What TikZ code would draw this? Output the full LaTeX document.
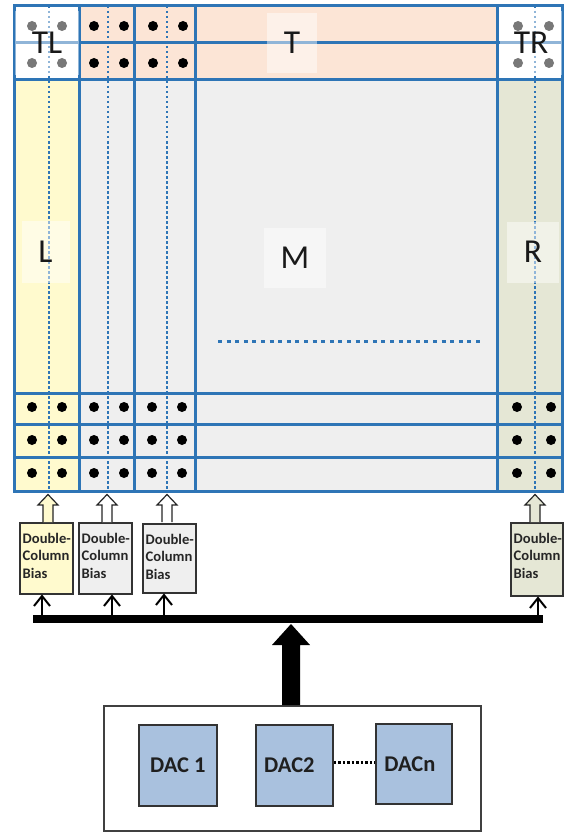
\documentclass[tikz,border=0pt]{standalone}
\usepackage{fontspec}
\setmainfont{Carlito}
\usetikzlibrary{arrows.meta,calc}
\definecolor{gridblue}{RGB}{46,117,182}
\definecolor{peach}{RGB}{252,229,214}
\definecolor{lyellow}{RGB}{255,250,206}
\definecolor{lgrey}{RGB}{239,239,239}
\definecolor{lolive}{RGB}{229,231,213}
\definecolor{dacblue}{RGB}{169,193,222}
\tikzset{
  gridline/.style={draw=gridblue, line width=3pt, line cap=rect},
  vdots/.style={draw=gridblue, line width=2pt, dash pattern=on 2.5pt off 2.5pt},
  hdots/.style={draw=gridblue, line width=3pt, dash pattern=on 4pt off 4.6pt},
  lblnode/.style={fill=white, fill opacity=0.47, text opacity=1, inner sep=0pt, text=black!90, font=\fontsize{33.5}{36}\selectfont},
  biasbox/.style={draw=black!80, line width=1.5pt, minimum width=53pt, minimum height=71pt, inner sep=0pt, anchor=north west},
  biastext/.style={font=\bfseries\fontsize{14.6}{17.5}\selectfont, align=left, anchor=north west, inner sep=0pt, text=black!85},
  hollow/.style={draw=black!85, line width=1.2pt, line join=miter},
  busline/.style={line width=2pt},
  barb/.style={line width=2pt, line join=miter},
  dacbox/.style={draw=black!80, line width=1.8pt, fill=dacblue, inner sep=0pt, anchor=north west},
  dactext/.style={font=\bfseries\fontsize{22.5}{27}\selectfont, text=black!88, inner sep=0pt}
}
\begin{document}
\begin{tikzpicture}[x=1pt,y=-1pt]
\useasboundingbox (0,0) rectangle (566,832);
% cell fills
\fill[white] (14,6) rectangle (79,80);
\fill[peach] (79,6) rectangle (497,80);
\fill[white] (497,6) rectangle (562,80);
\fill[lyellow] (14,80) rectangle (79,491);
\fill[lgrey] (79,80) rectangle (497,491);
\fill[lolive] (497,80) rectangle (562,491);
% dotted lines
\foreach \x in {49,108,167,535} \draw[vdots] (\x,6) -- (\x,491);
\draw[hdots] (218,341) -- (480,341);
% grid
\foreach \y in {6,43,80,393,424,457,491} \draw[gridline] (14,\y) -- (562,\y);
\foreach \x in {14,79,134,195,497,562} \draw[gridline] (\x,6) -- (\x,491);
% dots
\foreach \x in {32,62,94,124,153,183,518,549} \foreach \y in {26,63} \fill (\x,\y) circle (5pt);
\foreach \x in {32,62,94,124,152,182,517,551} \foreach \y in {407,440,473} \fill (\x,\y) circle (5pt);
% labels
\node[lblnode, minimum width=64pt, minimum height=64pt] (tl) at (47,43) {TL};
\node[lblnode, minimum width=50pt, minimum height=60pt] (t) at (292,43) {T};
\node[lblnode, minimum width=62pt, minimum height=64pt] (tr) at (531,43) {TR};
\node[lblnode, minimum width=48pt, minimum height=62pt] (l) at (45.5,252) {L};
\node[lblnode, minimum width=62pt, minimum height=60pt] (m) at (295,258) {M};
\node[lblnode, minimum width=52pt, minimum height=61pt] (r) at (533,252) {R};
% bias boxes
\node[biasbox, fill=lyellow] (b1) at (19,522) {};
\node[biasbox, fill=lgrey] (b2) at (78,522) {};
\node[biasbox, fill=lgrey, minimum height=69pt] (b3) at (142,523) {};
\node[biasbox, fill=lolive, minimum width=52pt, minimum height=73pt] (b4) at (510,522) {};
\foreach \b in {b1,b2,b3,b4} \node[biastext] (t\b) at ($(\b.north west)+(3.5,11)$) {Double-\\Column\\Bias};
% hollow arrows
\foreach \cx/\col in {48/lyellow,107/white,167/white,535/lolive}
  \filldraw[hollow, fill=\col] (\cx-5,522) -- (\cx-5,505) -- (\cx-10,505) -- (\cx,494.5) -- (\cx+10,505) -- (\cx+5,505) -- (\cx+5,522);
% bus
\coordinate (busL) at (33,619);
\coordinate (busR) at (543,619);
\draw[line width=8pt] (busL) -- (busR);
\foreach \x/\b in {42/b1,112/b2,164/b3,538/b4} {
  \coordinate (a\b) at (\x,615);
  \coordinate (e\b) at ($(a\b |- \b.south)+(0,1.5)$);
  \draw[busline] (a\b) -- (e\b);
  \draw[barb] ($(e\b)+(-8,10)$) -- (e\b) -- ($(e\b)+(8,10)$);
}
% DAC block
\node[draw=black!75, line width=2pt, minimum width=377pt, minimum height=125pt, inner sep=0pt, anchor=north west] (dacs) at (103,705) {};
\fill (282,705) -- (282,645) -- (272,645) -- (291,624) -- (310,645) -- (300,645) -- (300,705) -- cycle;
\node[dacbox, minimum width=78pt, minimum height=81pt] (d1) at (138,724) {};
\node[dacbox, minimum width=77pt, minimum height=81pt] (d2) at (255,724) {};
\node[dacbox, minimum width=76pt, minimum height=80pt] (dn) at (375,723) {};
\node[dactext] (td1) at (d1.center) {DAC 1};
\node[dactext] (td2) at ($(d2.center)+(-5,0)$) {DAC2};
\node[dactext] (tdn) at ($(dn.center)+(-4,0)$) {DACn};
\draw[black, line width=2.5pt, dash pattern=on 2.5pt off 2pt] ($(d2.east)+(0,-3)$) -- ($(d2.east -| dn.west)+(0,-3)$);
\end{tikzpicture}
\end{document}
